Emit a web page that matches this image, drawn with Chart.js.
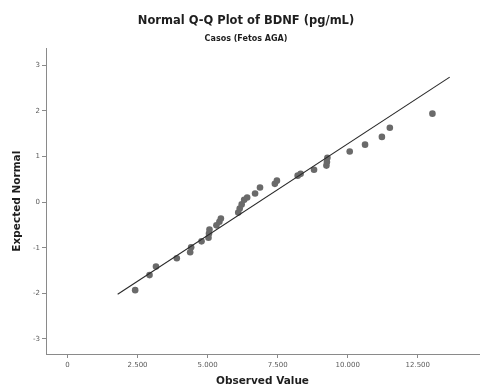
<!DOCTYPE html>
<html>
<head>
<meta charset="utf-8">
<script src="https://cdn.jsdelivr.net/npm/chart.js@4"></script>
<style>
  html, body { margin: 0; padding: 0; background: #fff; overflow: hidden; }
</style>
</head>
<body>
<canvas id="qq" width="483" height="388"></canvas>
<script>
// BDNF (pg/mL) observed values and their expected normal quantiles
const observed = [2415, 2928, 3158, 3901, 4378, 4413, 4784, 5032, 5050, 5067,
                  5315, 5421, 5474, 6093, 6146, 6216, 6305, 6411, 6694, 6870,
                  7400, 7474, 8214, 8320, 8798, 9240, 9258, 9275, 10071, 10619,
                  11220, 11503, 13023];
const expected = [-1.93, -1.60, -1.41, -1.23, -1.10, -0.99, -0.86, -0.78, -0.69, -0.60,
                  -0.51, -0.43, -0.36, -0.23, -0.14, -0.05, 0.05, 0.10, 0.19, 0.32,
                  0.40, 0.47, 0.58, 0.62, 0.71, 0.80, 0.88, 0.97, 1.11, 1.26,
                  1.43, 1.63, 1.94];

// Reference normal line endpoints
const refX = [1790, 13640];
const refY = [-2.02, 2.74];

// Axis ticks
const xTicks = [0, 2500, 5000, 7500, 10000, 12500];
const yTicks = [-3, -2, -1, 0, 1, 2, 3];

const points = observed.map((v, i) => ({ x: v, y: expected[i] }));
const refLine = refX.map((v, i) => ({ x: v, y: refY[i] }));

const fmt = v => v.toString().replace(/\B(?=(\d{3})+(?!\d))/g, '.');
const axisGrey = '#8a8a8a';
const tickFont = { family: 'DejaVu Sans', size: 7 };

new Chart(document.getElementById('qq'), {
  type: 'scatter',
  data: {
    datasets: [
      {
        type: 'line',
        data: refLine,
        borderColor: '#2a2a2a',
        borderWidth: 1.1,
        pointRadius: 0,
        fill: false
      },
      {
        data: points,
        backgroundColor: '#6a6a6a',
        borderColor: '#6a6a6a',
        borderWidth: 0,
        pointRadius: 3.3
      }
    ]
  },
  options: {
    responsive: false,
    animation: false,
    devicePixelRatio: 1,
    layout: { padding: { left: 9, right: 0, top: 0, bottom: 0 } },
    plugins: {
      legend: { display: false },
      tooltip: { enabled: false },
      title: {
        display: true,
        text: 'Normal Q-Q Plot of BDNF (pg/mL)',
        color: '#1e1e1e',
        font: { family: 'DejaVu Sans', size: 11.5, weight: 'bold', lineHeight: 1.2 },
        padding: { top: 14, bottom: 4 }
      },
      subtitle: {
        display: true,
        text: 'Casos (Fetos AGA)',
        color: '#1e1e1e',
        font: { family: 'DejaVu Sans', size: 8, weight: 'bold', lineHeight: 1.2 },
        padding: { top: 2, bottom: 5 }
      }
    },
    scales: {
      x: {
        type: 'linear',
        min: -767,
        max: 14685,
        afterBuildTicks: s => { s.ticks = xTicks.map(v => ({ value: v })); },
        afterFit: s => { s.height = 34; },
        grid: { display: true, drawOnChartArea: false, drawTicks: true, tickLength: 4, color: axisGrey },
        border: { display: true, color: axisGrey, width: 1 },
        ticks: { font: tickFont, color: '#5a5a5a', padding: 3, maxRotation: 0, autoSkip: false,
                 callback: v => fmt(v) },
        title: {
          display: true,
          text: 'Observed Value',
          color: '#1e1e1e',
          font: { family: 'DejaVu Sans', size: 10.5, weight: 'bold', lineHeight: 1.2 },
          padding: { top: 4, bottom: 0 }
        }
      },
      y: {
        type: 'linear',
        min: -3.33,
        max: 3.37,
        afterBuildTicks: s => { s.ticks = yTicks.map(v => ({ value: v })); },
        afterFit: s => { s.width = 37; },
        grid: { display: true, drawOnChartArea: false, drawTicks: true, tickLength: 4, color: axisGrey },
        border: { display: true, color: axisGrey, width: 1 },
        ticks: { font: tickFont, color: '#5a5a5a', padding: 2, autoSkip: false },
        title: {
          display: true,
          text: 'Expected Normal',
          color: '#1e1e1e',
          font: { family: 'DejaVu Sans', size: 10.5, weight: 'bold', lineHeight: 1.2 },
          padding: { top: 1.7, bottom: 8 }
        }
      }
    }
  }
});
</script>
</body>
</html>
